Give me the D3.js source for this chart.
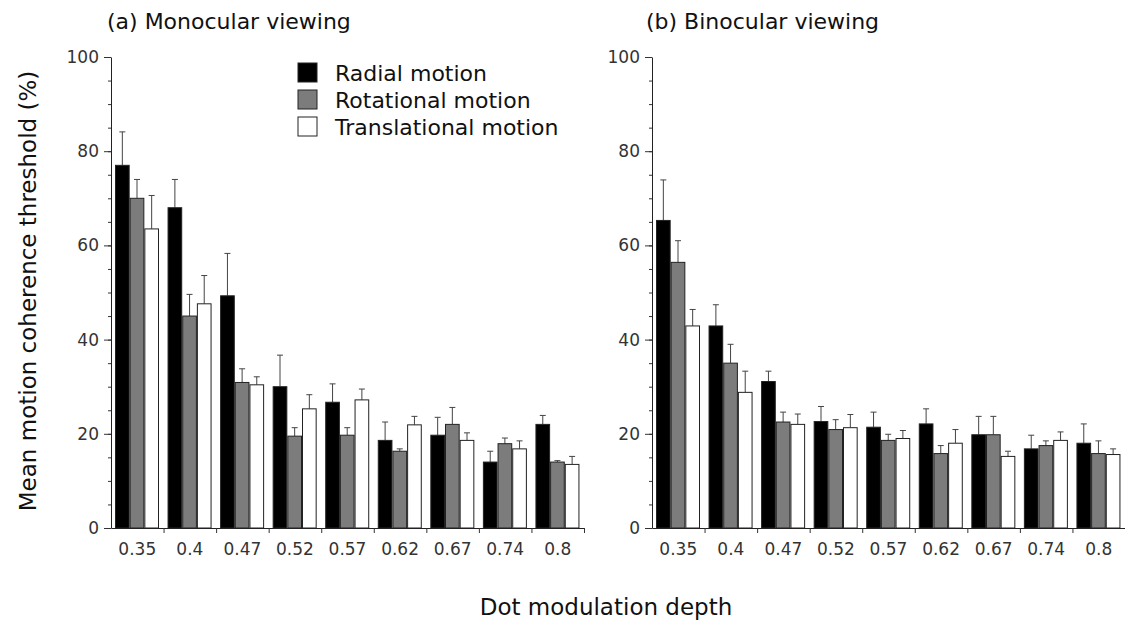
<!DOCTYPE html>
<html>
<head>
<meta charset="utf-8">
<script src="https://cdn.jsdelivr.net/npm/d3@7"></script>
<style>
  html, body { margin: 0; padding: 0; background: #fff; }
  svg { display: block; }
</style>
</head>
<body>
<svg id="chart" width="1125" height="624"></svg>
<script>
// ---- data ----
const categories = ["0.35", "0.4", "0.47", "0.52", "0.57", "0.62", "0.67", "0.74", "0.8"];
const seriesNames = ["Radial motion", "Rotational motion", "Translational motion"];
const panelTitles = ["(a) Monocular viewing", "(b) Binocular viewing"];
const yTickValues = [0, 20, 40, 60, 80, 100];

// (a) Monocular viewing
const monoRadial = [77, 68, 49.3, 30, 26.7, 18.6, 19.7, 14, 22];
const monoRadialErr = [7.1, 6, 9, 6.7, 3.9, 3.9, 3.8, 2.3, 1.9];
const monoRotational = [70, 45, 30.9, 19.5, 19.7, 16.3, 22, 17.9, 14];
const monoRotationalErr = [4, 4.6, 2.9, 1.8, 1.6, 0.5, 3.6, 1.2, 0.3];
const monoTranslational = [63.5, 47.6, 30.4, 25.3, 27.2, 21.9, 18.6, 16.8, 13.5];
const monoTranslationalErr = [7.1, 6, 1.7, 3, 2.3, 1.8, 1.6, 1.7, 1.7];

// (b) Binocular viewing
const binoRadial = [65.3, 42.9, 31.1, 22.6, 21.4, 22.1, 19.8, 16.8, 18];
const binoRadialErr = [8.6, 4.5, 2.2, 3.2, 3.2, 3.2, 3.9, 2.9, 4.1];
const binoRotational = [56.4, 35, 22.5, 20.9, 18.6, 15.8, 19.8, 17.5, 15.8];
const binoRotationalErr = [4.6, 4, 2.1, 2.1, 1.3, 1.7, 3.9, 1, 2.7];
const binoTranslational = [42.9, 28.8, 22, 21.3, 19, 18, 15.2, 18.6, 15.6];
const binoTranslationalErr = [3.5, 4.5, 2.2, 2.8, 1.7, 2.9, 1.1, 1.8, 1.2];

// ---- layout ----
const svg = d3.select("#chart");
const FONT = "'DejaVu Sans', Verdana, sans-serif";
const fills = ["#000000", "#7c7c7c", "#ffffff"];
const yTop = 57, yBottom = 528;
const panelWidth = 473;
const panelX = [111, 652];

const y = d3.scaleLinear().domain([0, 100]).range([yBottom, yTop]);

const panels = [
  { title: panelTitles[0], titleX: 107,
    values: [monoRadial, monoRotational, monoTranslational],
    errs: [monoRadialErr, monoRotationalErr, monoTranslationalErr] },
  { title: panelTitles[1], titleX: 646,
    values: [binoRadial, binoRotational, binoTranslational],
    errs: [binoRadialErr, binoRotationalErr, binoTranslationalErr] }
];

panels.forEach((p, pi) => {
  const x0 = panelX[pi];
  const g = svg.append("g");
  const x = d3.scaleBand().domain(categories).range([x0, x0 + panelWidth]).padding(0);
  const xs = d3.scaleBand().domain(seriesNames).range([4, 48]).padding(0);
  const xb = d3.scaleLinear().domain([0, categories.length]).range([x0, x0 + panelWidth]);

  // bars
  seriesNames.forEach((s, si) => {
    const data = categories.map((c, i) => ({ c, v: p.values[si][i], e: p.errs[si][i] }));
    // error bars (upper only)
    const eg = g.append("g");
    data.forEach(d => {
      const cx = x(d.c) + xs(s) + xs.bandwidth() / 2;
      eg.append("line")
        .attr("x1", cx).attr("x2", cx)
        .attr("y1", y(d.v)).attr("y2", y(d.v + d.e))
        .attr("stroke", "#444").attr("stroke-width", 1);
      eg.append("line")
        .attr("x1", cx - 3).attr("x2", cx + 3)
        .attr("y1", y(d.v + d.e)).attr("y2", y(d.v + d.e))
        .attr("stroke", "#444").attr("stroke-width", 1);
    });
    g.append("g").selectAll("rect").data(data).join("rect")
      .attr("x", d => x(d.c) + xs(s) + 0.5)
      .attr("y", d => y(d.v))
      .attr("width", xs.bandwidth() - 1)
      .attr("height", d => y(0) - y(d.v))
      .attr("fill", fills[si])
      .attr("stroke", "#222")
      .attr("stroke-width", 1);
  });

  // y axis: minor ticks
  g.append("g").attr("transform", `translate(${x0},0)`)
    .call(d3.axisLeft(y).tickValues(d3.range(0, 101, 5)).tickSize(3).tickFormat(""))
    .call(a => a.select(".domain").remove())
    .call(a => a.selectAll("line").attr("stroke", "#333"));
  // y axis: major ticks
  g.append("g").attr("transform", `translate(${x0},0)`)
    .call(d3.axisLeft(y).tickValues(yTickValues).tickSize(7).tickSizeOuter(0).tickPadding(5))
    .call(a => a.select(".domain").attr("stroke", "#222"))
    .call(a => a.selectAll("line").attr("stroke", "#333"))
    .call(a => a.selectAll("text").attr("font-family", FONT).attr("font-size", 17).attr("fill", "#333"));

  // x axis: boundary ticks
  g.append("g").attr("transform", `translate(0,${yBottom})`)
    .call(d3.axisBottom(xb).tickValues(d3.range(1, categories.length + 1)).tickSize(5).tickSizeOuter(0).tickFormat(""))
    .call(a => a.select(".domain").attr("stroke", "#222"))
    .call(a => a.selectAll("line").attr("stroke", "#333"));
  // x axis labels
  g.append("g").attr("transform", `translate(0,${yBottom})`)
    .call(d3.axisBottom(x).tickSize(0).tickPadding(15))
    .call(a => a.select(".domain").remove())
    .call(a => a.selectAll("text").attr("font-family", FONT).attr("font-size", 17).attr("fill", "#333"));

  // panel title
  svg.append("text")
    .attr("x", p.titleX).attr("y", 29)
    .attr("font-family", FONT).attr("font-size", 22).attr("fill", "#111")
    .text(p.title);
});

// legend
const legend = svg.append("g");
seriesNames.forEach((s, i) => {
  const cy = 73 + i * 27;
  legend.append("rect")
    .attr("x", 298).attr("y", cy - 10)
    .attr("width", 19).attr("height", 19)
    .attr("fill", fills[i]).attr("stroke", "#222").attr("stroke-width", 1);
  legend.append("text")
    .attr("x", 335).attr("y", cy + 8)
    .attr("font-family", FONT).attr("font-size", 22).attr("fill", "#111")
    .text(s);
});

// axis titles
svg.append("text")
  .attr("transform", "translate(36,291) rotate(-90)")
  .attr("text-anchor", "middle")
  .attr("font-family", FONT).attr("font-size", 23).attr("fill", "#111")
  .text("Mean motion coherence threshold (%)");

svg.append("text")
  .attr("x", 606).attr("y", 615)
  .attr("text-anchor", "middle")
  .attr("font-family", FONT).attr("font-size", 23).attr("fill", "#111")
  .text("Dot modulation depth");
</script>
</body>
</html>
